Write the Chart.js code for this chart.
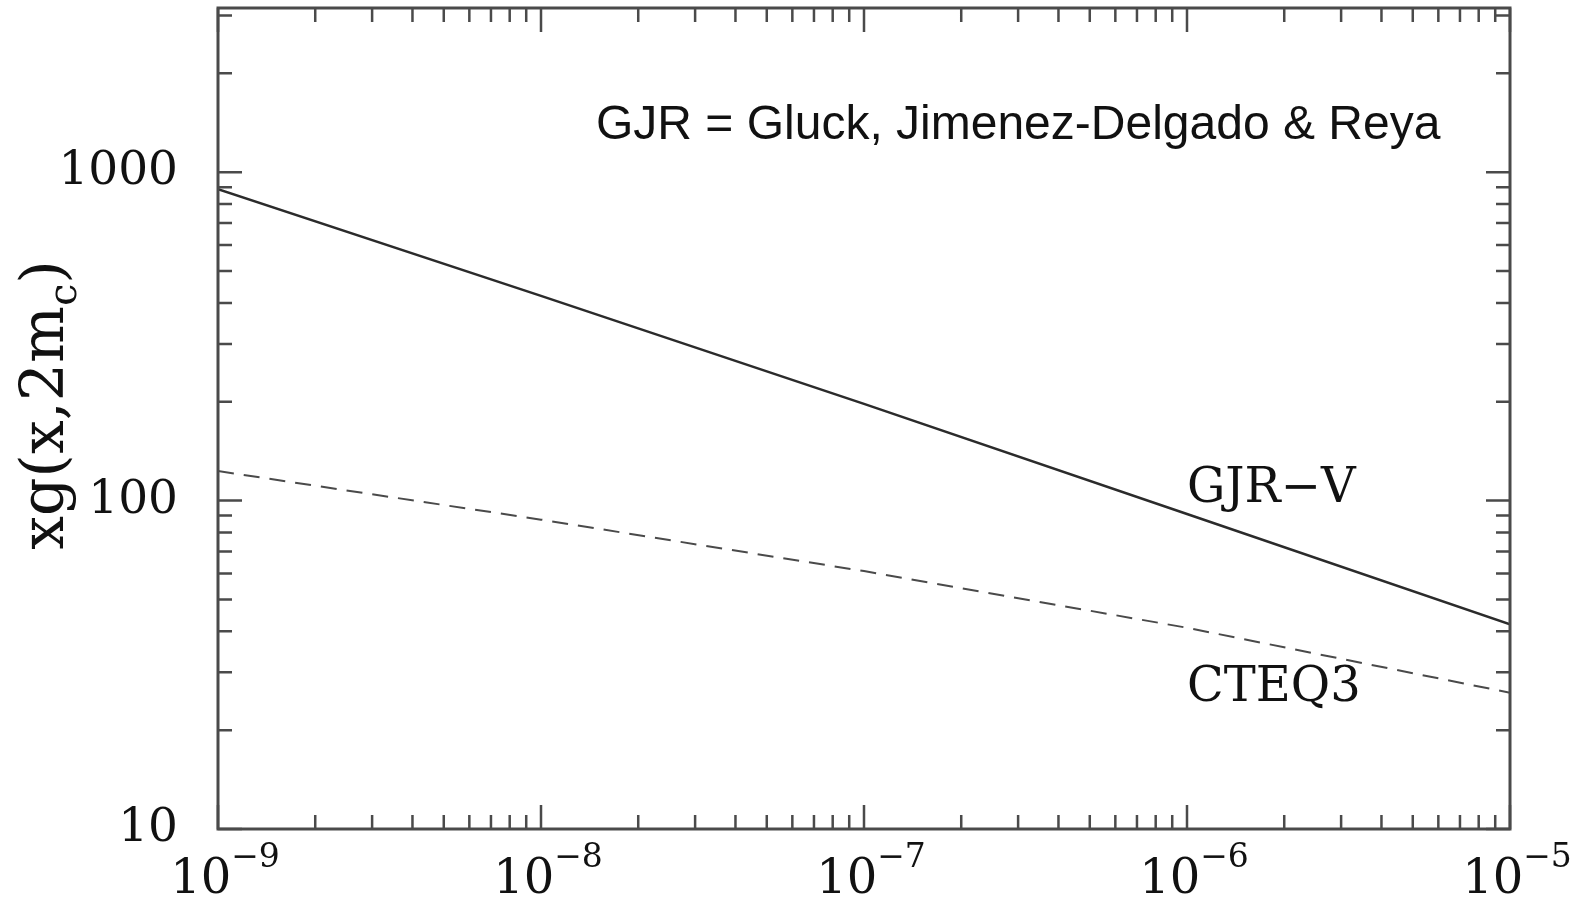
<!DOCTYPE html>
<html>
<head>
<meta charset="utf-8">
<script src="https://cdn.jsdelivr.net/npm/chart.js@4"></script>
<style>
html, body { margin: 0; padding: 0; background: #fff; }
#wrap { width: 1581px; height: 898px; }
</style>
</head>
<body>
<div id="wrap"><canvas id="myChart"></canvas></div>
<script>
var xValues = [1e-9, 1e-8, 1e-7, 1e-6, 1e-5];
var gjrV = [888, 420, 197, 91, 42];
var cteq3 = [123, 87.5, 61, 41, 26];
var xExponents = [-9, -8, -7, -6, -5];
var yTickValues = [10, 100, 1000];
var curveLabels = ['GJR\u2212V', 'CTEQ3'];
var curveLabelAt = [[1e-6, 99.3], [1e-6, 24.5]];
var note = 'GJR = Gluck, Jimenez-Delgado & Reya';

function pts(ys) {
  return xValues.map(function (x, i) { return { x: x, y: ys[i] }; });
}

var serif = '"DejaVu Serif", serif';

var decor = {
  id: 'decor',
  afterDraw: function (chart) {
    var ctx = chart.ctx, a = chart.chartArea;
    var xs = chart.scales.x, ys = chart.scales.y;
    ctx.save();
    ctx.strokeStyle = '#4a4a4a';
    ctx.lineWidth = 2.5;

    // inward tick marks on all four sides
    ctx.beginPath();
    for (var d = -9; d <= -5; d++) {
      for (var m = 1; m <= 9; m++) {
        var v = m * Math.pow(10, d);
        if (v > 1.0001e-5) break;
        var px = xs.getPixelForValue(v);
        var len = m === 1 ? 24 : 14;
        ctx.moveTo(px, a.bottom); ctx.lineTo(px, a.bottom - len);
        ctx.moveTo(px, a.top); ctx.lineTo(px, a.top + len);
      }
    }
    for (var e = 1; e <= 3; e++) {
      for (var k = 1; k <= 9; k++) {
        var w = k * Math.pow(10, e);
        if (w > ys.max) break;
        var py = ys.getPixelForValue(w);
        var l2 = k === 1 ? 24 : 14;
        ctx.moveTo(a.left, py); ctx.lineTo(a.left + l2, py);
        ctx.moveTo(a.right, py); ctx.lineTo(a.right - l2, py);
      }
    }
    ctx.stroke();

    ctx.lineWidth = 3;
    ctx.strokeRect(a.left, a.top, a.right - a.left, a.bottom - a.top);

    ctx.fillStyle = '#111';

    // y tick labels
    ctx.font = '47px ' + serif;
    ctx.textAlign = 'right';
    ctx.textBaseline = 'middle';
    yTickValues.forEach(function (v) {
      ctx.fillText(String(v), a.left - 40, ys.getPixelForValue(v));
    });

    // x tick labels with superscript exponent
    ctx.textAlign = 'left';
    ctx.textBaseline = 'alphabetic';
    xExponents.forEach(function (ex) {
      var cx = xs.getPixelForValue(Math.pow(10, ex));
      ctx.font = '48px ' + serif;
      var wb = ctx.measureText('10').width;
      var sup = '\u2212' + Math.abs(ex);
      ctx.font = '33px ' + serif;
      var wsup = ctx.measureText(sup).width;
      var x0 = cx - (wb + wsup) / 2 + 7;
      ctx.font = '48px ' + serif;
      ctx.fillText('10', x0, 893);
      ctx.font = '33px ' + serif;
      ctx.fillText(sup, x0 + wb, 867);
    });

    // curve labels
    ctx.font = '48px ' + serif;
    curveLabels.forEach(function (t, i) {
      ctx.fillText(t, xs.getPixelForValue(curveLabelAt[i][0]), ys.getPixelForValue(curveLabelAt[i][1]));
    });

    // note
    ctx.font = '48px "Liberation Sans", Arial, sans-serif';
    ctx.fillText(note, 596, 139);

    // y axis title xg(x,2m_c)
    ctx.translate(63, 405);
    ctx.rotate(-Math.PI / 2);
    ctx.font = '60px ' + serif;
    var p1 = 'xg(x,2m', p3 = ')';
    var w1 = ctx.measureText(p1).width, w3 = ctx.measureText(p3).width;
    ctx.font = '40px ' + serif;
    var w2 = ctx.measureText('c').width;
    var sx = -(w1 + w2 + w3) / 2;
    ctx.font = '60px ' + serif;
    ctx.fillText(p1, sx, 0);
    ctx.font = '40px ' + serif;
    ctx.fillText('c', sx + w1, 13);
    ctx.font = '60px ' + serif;
    ctx.fillText(p3, sx + w1 + w2, 0);

    ctx.restore();
  }
};

new Chart(document.getElementById('myChart'), {
  type: 'line',
  data: {
    datasets: [{
      label: 'GJR-V',
      data: pts(gjrV),
      borderColor: '#2b2b2b',
      borderWidth: 2.5,
      pointRadius: 0,
      fill: false
    }, {
      label: 'CTEQ3',
      data: pts(cteq3),
      borderColor: '#4a4a4a',
      borderWidth: 2,
      borderDash: [16, 10],
      pointRadius: 0,
      fill: false
    }]
  },
  options: {
    animation: false,
    responsive: true,
    maintainAspectRatio: false,
    layout: { padding: { left: 218, right: 71, top: 8, bottom: 69 } },
    plugins: { legend: { display: false }, tooltip: { enabled: false } },
    scales: {
      x: { type: 'logarithmic', min: 1e-9, max: 1e-5, display: false },
      y: { type: 'logarithmic', min: 10, max: 3162, display: false }
    }
  },
  plugins: [decor]
});
</script>
</body>
</html>
